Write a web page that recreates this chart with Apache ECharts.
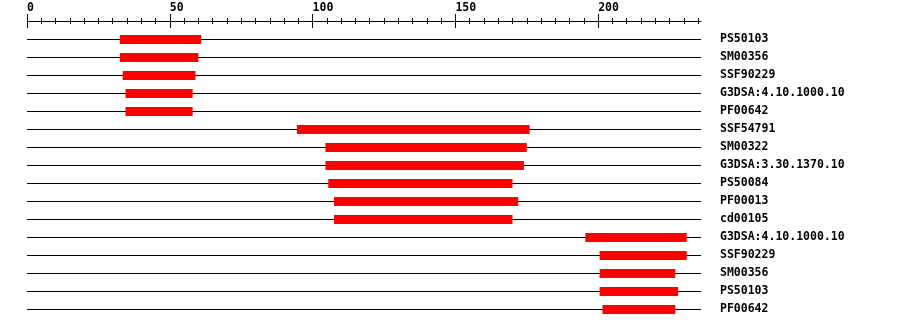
<!DOCTYPE html>
<html><head><meta charset="utf-8">
<script src="https://cdn.jsdelivr.net/npm/echarts@6/dist/echarts.min.js"></script>
<style>html,body{margin:0;padding:0;background:#fff}#c{width:900px;height:328px}</style>
</head><body><div id="c"></div>
<script>
const labels = ["PS50103","SM00356","SSF90229","G3DSA:4.10.1000.10","PF00642","SSF54791","SM00322","G3DSA:3.30.1370.10","PS50084","PF00013","cd00105","G3DSA:4.10.1000.10","SSF90229","SM00356","PS50103","PF00642"];
const starts = [32.5,32.5,33.5,34.5,34.5,94.5,104.5,104.5,105.5,107.5,107.5,195.5,200.5,200.5,200.5,201.5];
const ends   = [61,60,59,58,58,176,175,174,170,172,170,231,231,227,228,227];
const majorTicks = [0,50,100,150,200];
const minorTicks = [];
for (let v = 0; v <= 235; v += 5) minorTicks.push(v);
const axisMax = 236;

const font = 'DejaVu Sans Mono';
const data = labels.map((l, i) => [starts[i], ends[i], i]);
const baseX = {type:'value', position:'top', offset:18, min:0, max:axisMax, gridIndex:0,
  splitLine:{show:false}, axisLine:{show:false}, axisLabel:{show:false}, axisTick:{show:false}};
const chart = echarts.init(document.getElementById('c'), null, {renderer:'canvas'});
chart.setOption({
  backgroundColor:'#fff',
  animation:false,
  grid:{left:27, top:39, width:674, height:270},
  xAxis:[
    Object.assign({}, baseX, {
      axisLine:{show:true, lineStyle:{color:'#000', width:1}},
      axisTick:{show:true, customValues:minorTicks, length:3, inside:false, lineStyle:{color:'#000'}},
      axisLabel:{show:true, customValues:majorTicks, align:'left', margin:7, color:'#000',
        fontFamily:font, fontWeight:'bold', fontSize:11.5}
    }),
    Object.assign({}, baseX, {axisTick:{show:true, customValues:minorTicks, length:3, inside:true, lineStyle:{color:'#000'}}}),
    Object.assign({}, baseX, {axisTick:{show:true, customValues:majorTicks, length:7, inside:false, lineStyle:{color:'#000'}}}),
    Object.assign({}, baseX, {axisTick:{show:true, customValues:majorTicks, length:7, inside:true, lineStyle:{color:'#000'}}})
  ],
  yAxis:{type:'category', data:labels.map((l,i)=>i), inverse:true, boundaryGap:false, position:'right',
    axisLine:{show:false}, axisTick:{show:false},
    splitLine:{show:true, lineStyle:{color:'#000', width:1}},
    axisLabel:{show:true, margin:19, align:'left', color:'#000', fontFamily:font, fontWeight:'bold', fontSize:11.5,
      formatter:(v)=>labels[+v]}
  },
  series:[{
    type:'custom', xAxisIndex:0, yAxisIndex:0, data:data,
    encode:{x:[0,1], y:2},
    renderItem:(params, api)=>{
      const p0 = api.coord([api.value(0), api.value(2)]);
      const p1 = api.coord([api.value(1), api.value(2)]);
      return {type:'rect', shape:{x:p0[0], y:p0[1]-4, width:p1[0]-p0[0], height:9},
        style:{fill:'#ff0000'}};
    }
  }]
});
</script></body></html>
